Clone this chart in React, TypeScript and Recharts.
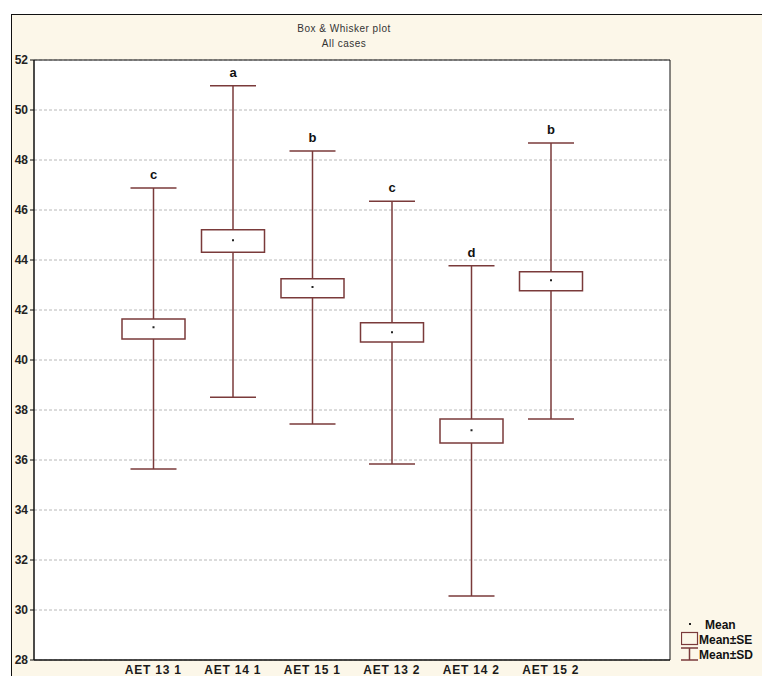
import React from 'react';
import { ComposedChart, Bar, XAxis, YAxis, CartesianGrid, ReferenceArea } from 'recharts';

// groups (empty slots at both ends, like the original plot)
const categories = ['', 'AET 13 1', 'AET 14 1', 'AET 15 1', 'AET 13 2', 'AET 14 2', 'AET 15 2', ''];
const means = [null, 41.31, 44.79, 42.92, 41.11, 37.19, 43.19, null];
const seLow = [null, 40.84, 44.31, 42.49, 40.72, 36.68, 42.77, null];
const seHigh = [null, 41.64, 45.21, 43.25, 41.49, 37.64, 43.53, null];
const sdLow = [null, 35.64, 38.51, 37.44, 35.84, 30.56, 37.64, null];
const sdHigh = [null, 46.88, 50.97, 48.36, 46.35, 43.77, 48.68, null];
const groupLetters = ['', 'c', 'a', 'b', 'c', 'd', 'b', ''];
const yTicks = [28, 30, 32, 34, 36, 38, 40, 42, 44, 46, 48, 50, 52];

const BROWN = '#7a3a3a';
const FONT = '"Liberation Sans", Arial, sans-serif';

const data = categories.map((name, i) => ({
    idx: i,
    name,
    mean: means[i],
    se: seLow[i] != null ? [seLow[i], seHigh[i]] : null,
    sd: sdLow[i] != null ? [sdLow[i], sdHigh[i]] : null,
    letter: groupLetters[i],
}));

// draws one whole box & whisker from the pixel span the Bar got for mean±SD
const BoxWhisker = (props: any) => {
    const { x, y, width, height, payload } = props;
    if (!payload || !payload.sd) return null;
    const [lo, hi] = payload.sd;
    const top = Math.min(y, y + height);
    const bottom = Math.max(y, y + height);
    const py = (v: number) => top + ((hi - v) / (hi - lo)) * (bottom - top);
    const cx = x + width / 2;
    const boxW = 63;
    const capW = 46;
    const seTop = py(payload.se[1]);
    const seBot = py(payload.se[0]);
    const m = py(payload.mean);
    return (
        <g>
            <line x1={cx} x2={cx} y1={top} y2={seTop} stroke={BROWN} strokeWidth={1.5} />
            <line x1={cx} x2={cx} y1={seBot} y2={bottom} stroke={BROWN} strokeWidth={1.5} />
            <line x1={cx - capW / 2} x2={cx + capW / 2} y1={top} y2={top} stroke={BROWN} strokeWidth={1.5} />
            <line x1={cx - capW / 2} x2={cx + capW / 2} y1={bottom} y2={bottom} stroke={BROWN} strokeWidth={1.5} />
            <rect x={cx - boxW / 2} y={seTop} width={boxW} height={seBot - seTop} fill="#fff" stroke={BROWN} strokeWidth={1.5} />
            <rect x={cx - 1} y={m - 1} width={2} height={2} fill="#222" />
            <text x={cx} y={top - 9} textAnchor="middle" fontFamily={FONT} fontWeight="bold" fontSize={13} fill="#111">
                {payload.letter}
            </text>
        </g>
    );
};

const XTick = (props: any) => {
    const { x, payload } = props;
    return (
        <text x={x} y={674} textAnchor="middle" fontFamily={FONT} fontWeight="bold" fontSize={12} letterSpacing={0.8} fill="#1a1a1a">
            {categories[payload.value]}
        </text>
    );
};

const LegendBox = () => (
    <svg width={81} height={45} style={{ display: 'block', overflow: 'hidden' }}>
        <rect x={8} y={4} width={2} height={2} fill="#222" />
        <text x={24} y={10} fontFamily={FONT} fontWeight="bold" fontSize={12} fill="#111">Mean</text>
        <rect x={0.5} y={13.5} width={16} height={12} fill="none" stroke={BROWN} strokeWidth={1.2} />
        <text x={18} y={25} fontFamily={FONT} fontWeight="bold" fontSize={12} fill="#111">Mean±SE</text>
        <line x1={0} x2={17} y1={29} y2={29} stroke={BROWN} strokeWidth={1.5} />
        <line x1={8.5} x2={8.5} y1={29} y2={41} stroke={BROWN} strokeWidth={1.5} />
        <line x1={0} x2={17} y1={41} y2={41} stroke={BROWN} strokeWidth={1.5} />
        <text x={18} y={40} fontFamily={FONT} fontWeight="bold" fontSize={12} fill="#111">Mean±SD</text>
    </svg>
);

export default function App() {
    return (
        <div style={{ position: 'relative', width: 762, height: 676, overflow: 'hidden', background: '#fff' }}>
            <style>{'html, body { margin: 0; padding: 0; overflow: hidden; }'}</style>
            <div
                style={{
                    position: 'absolute', left: 11, top: 14, right: 0, bottom: 0,
                    background: '#fcf7e9', borderLeft: '1px solid #111', borderTop: '1px solid #111',
                }}
            />
            <div style={{ position: 'absolute', left: 244, width: 200, top: 21, textAlign: 'center', fontFamily: FONT, fontSize: 10, lineHeight: '15px', color: '#333', letterSpacing: 0.5 }}>
                Box &amp; Whisker plot<br />All cases
            </div>
            <div style={{ position: 'absolute', left: 0, top: 0 }}>
                <ComposedChart
                    width={762}
                    height={676}
                    data={data}
                    margin={{ top: 60, right: 92, bottom: 0, left: 0 }}
                    barCategoryGap={0}
                >
                    <CartesianGrid vertical={false} stroke="#b8b8b8" strokeDasharray="3 2" fill="#fff" />
                    <XAxis
                        dataKey="idx"
                        type="category"
                        height={16}
                        axisLine={{ stroke: '#111' }}
                        tickLine={false}
                        tick={<XTick />}
                        interval={0}
                    />
                    <XAxis
                        xAxisId="top"
                        dataKey="idx"
                        type="category"
                        orientation="top"
                        height={0}
                        mirror
                        axisLine={false}
                        tickSize={3}
                        tickLine={{ stroke: '#111' }}
                        tickFormatter={() => ''}
                        interval={0}
                    />
                    <YAxis
                        domain={[28, 52]}
                        ticks={yTicks}
                        width={34}
                        interval={0}
                        axisLine={{ stroke: '#111' }}
                        tickLine={{ stroke: '#111' }}
                        tickSize={4}
                        tickMargin={2}
                        tick={{ fontFamily: FONT, fontWeight: 'bold', fontSize: 12, fill: '#222' }}
                    />
                    <Bar dataKey="sd" barSize={64} shape={<BoxWhisker />} isAnimationActive={false} />
                    <ReferenceArea y1={28} y2={52} fill="none" stroke="#111" strokeWidth={1} ifOverflow="visible" />
                </ComposedChart>
            </div>
            <div style={{ position: 'absolute', left: 681, top: 619 }}>
                <LegendBox />
            </div>
        </div>
    );
}
